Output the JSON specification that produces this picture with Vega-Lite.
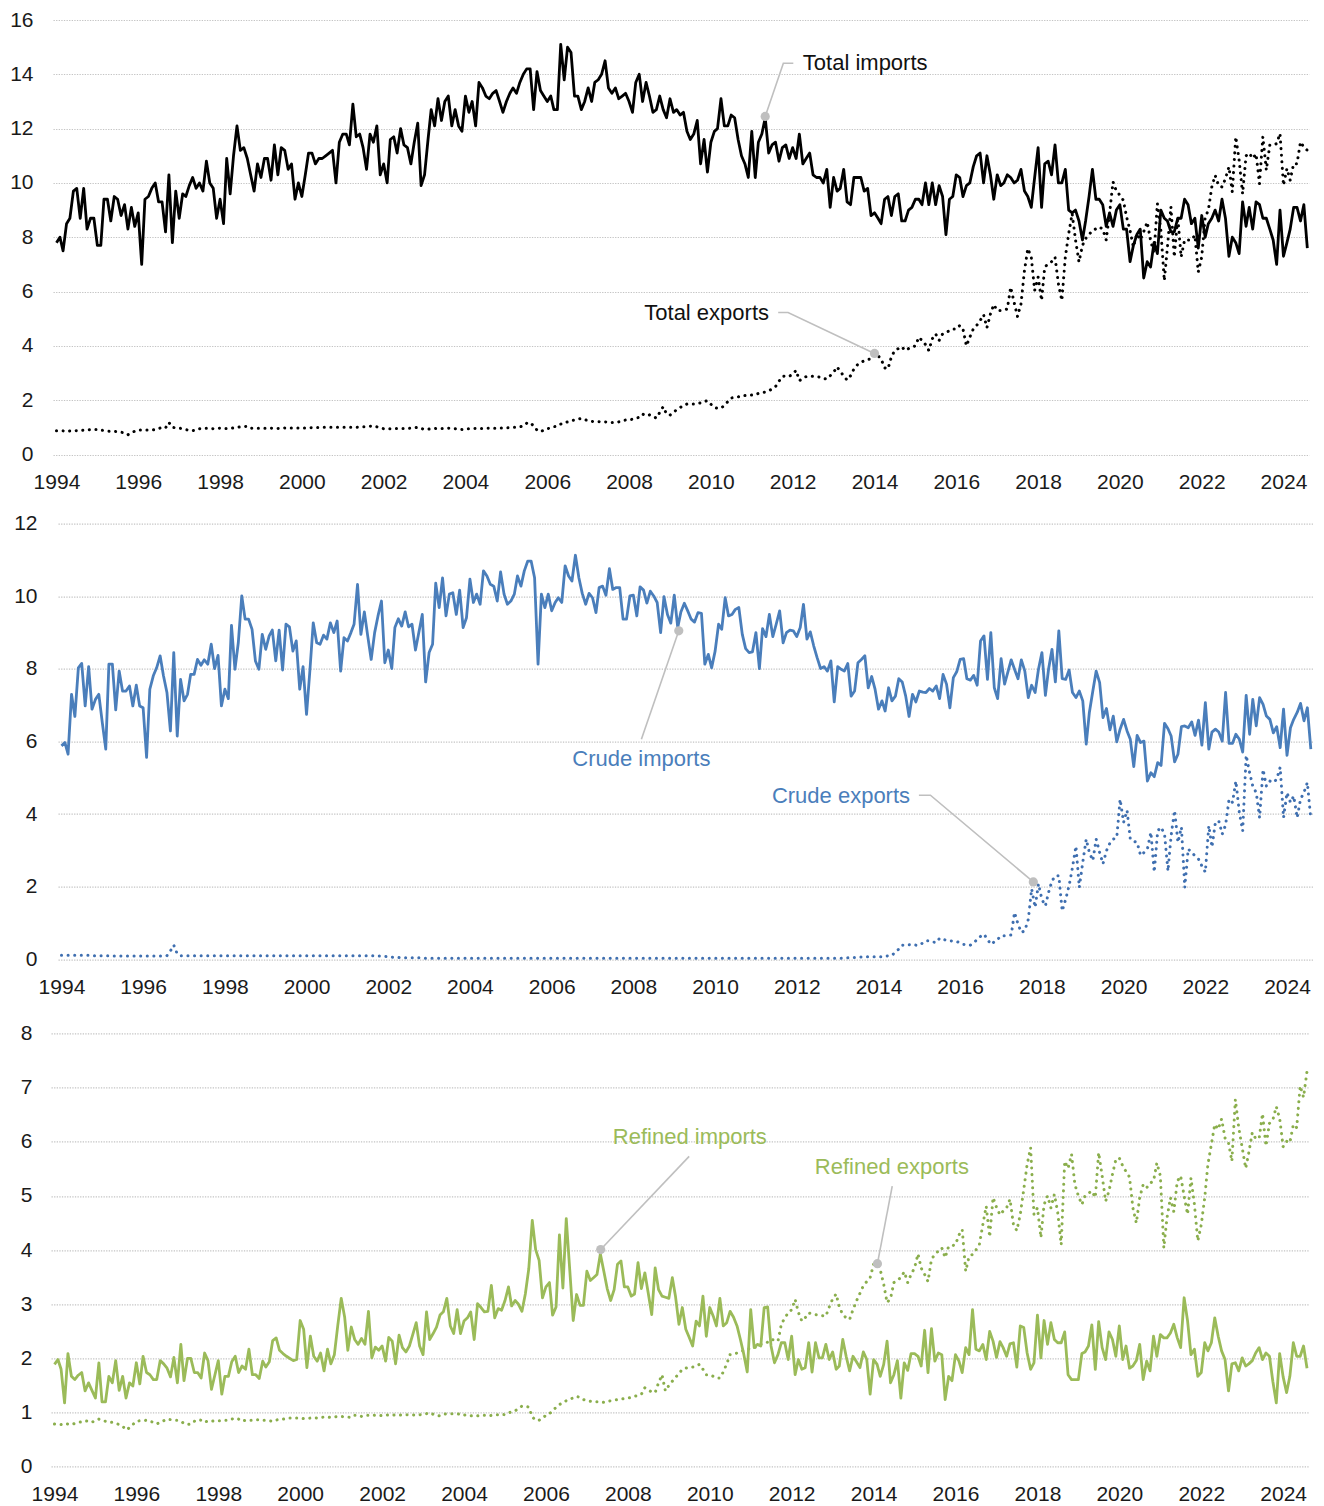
{
"$schema": "https://vega.github.io/schema/vega-lite/v6.json",
"background": "white",
"padding": {"left": 9, "top": 9, "right": 5, "bottom": 5},
"config": {
  "view": {"stroke": null},
  "axis": {"domain": false, "ticks": false, "tickSize": 0, "labelFont": "Liberation Sans", "labelFontSize": 21, "labelColor": "#1a1a1a", "gridColor": "#c4c4c4", "gridDash": [1.3, 1.3], "gridWidth": 1.2},
  "axisX": {"grid": false},
  "axisY": {"grid": true}
},
"data": {
  "values": "d,ti,te,ci,ce,ri,re\n1994-01,7.8,0.87,5.88,0.11,1.89,0.79\n1994-02,8.0,0.87,5.97,0.11,1.98,0.78\n1994-03,7.5,0.87,5.65,0.11,1.80,0.78\n1994-04,8.5,0.85,7.30,0.11,1.18,0.80\n1994-05,8.7,0.87,6.69,0.11,2.09,0.79\n1994-06,9.7,0.87,8.03,0.11,1.67,0.78\n1994-07,9.8,0.88,8.15,0.11,1.61,0.80\n1994-08,8.7,0.88,6.98,0.11,1.69,0.82\n1994-09,9.8,0.90,8.06,0.11,1.74,0.83\n1994-10,8.3,0.90,6.89,0.10,1.40,0.85\n1994-11,8.7,0.92,7.16,0.10,1.55,0.84\n1994-12,8.7,0.92,7.30,0.10,1.41,0.82\n1995-01,7.7,0.92,6.52,0.10,1.27,0.86\n1995-02,7.7,0.90,5.79,0.10,1.92,0.88\n1995-03,9.4,0.88,8.13,0.10,1.20,0.86\n1995-04,9.4,0.86,8.13,0.09,1.20,0.84\n1995-05,8.6,0.85,6.87,0.09,1.67,0.83\n1995-06,9.5,0.85,7.94,0.09,1.55,0.82\n1995-07,9.4,0.84,7.39,0.09,1.96,0.80\n1995-08,8.8,0.82,7.39,0.09,1.41,0.78\n1995-09,9.2,0.80,7.53,0.09,1.67,0.75\n1995-10,8.3,0.73,6.98,0.09,1.27,0.68\n1995-11,9.1,0.80,7.55,0.09,1.55,0.72\n1995-12,8.4,0.86,6.98,0.09,1.49,0.78\n1996-01,8.9,0.90,6.93,0.09,1.92,0.84\n1996-02,7.0,0.90,5.56,0.09,1.53,0.85\n1996-03,9.4,0.90,7.44,0.09,2.04,0.85\n1996-04,9.5,0.90,7.81,0.09,1.74,0.86\n1996-05,9.8,0.90,8.03,0.09,1.70,0.84\n1996-06,10.0,0.92,8.36,0.09,1.61,0.82\n1996-07,9.3,0.95,7.81,0.09,1.61,0.79\n1996-08,9.3,1.00,7.35,0.10,1.96,0.82\n1996-09,8.2,0.98,6.29,0.23,1.90,0.85\n1996-10,10.3,1.18,8.45,0.39,1.82,0.88\n1996-11,7.8,1.00,6.15,0.15,1.66,0.87\n1996-12,9.7,0.98,7.71,0.10,2.02,0.86\n1997-01,8.7,0.97,7.12,0.10,1.55,0.86\n1997-02,9.6,0.95,7.30,0.10,2.26,0.84\n1997-03,9.5,0.92,7.85,0.10,1.59,0.80\n1997-04,9.9,0.88,7.85,0.10,2.00,0.78\n1997-05,10.2,0.88,8.26,0.10,2.00,0.79\n1997-06,9.8,0.90,8.10,0.10,1.74,0.84\n1997-07,10.0,0.95,8.25,0.10,1.74,0.87\n1997-08,9.7,0.97,8.13,0.10,1.64,0.86\n1997-09,10.8,0.97,8.68,0.10,2.10,0.82\n1997-10,10.0,0.96,8.01,0.10,1.96,0.85\n1997-11,9.8,0.95,8.37,0.10,1.43,0.84\n1997-12,8.7,0.96,6.98,0.10,1.69,0.85\n1998-01,9.4,0.97,7.44,0.10,1.96,0.85\n1998-02,8.5,0.96,7.18,0.10,1.34,0.85\n1998-03,10.9,0.96,9.20,0.10,1.67,0.86\n1998-04,9.6,0.96,7.99,0.10,1.67,0.86\n1998-05,11.0,0.98,8.72,0.10,1.94,0.88\n1998-06,12.1,1.00,10.01,0.10,2.04,0.90\n1998-07,11.2,1.02,9.37,0.10,1.74,0.88\n1998-08,11.3,1.03,9.37,0.10,1.86,0.84\n1998-09,10.9,1.04,9.09,0.10,1.80,0.86\n1998-10,10.3,0.97,8.22,0.10,2.17,0.86\n1998-11,9.7,0.96,7.99,0.10,1.70,0.86\n1998-12,10.7,0.97,8.95,0.10,1.70,0.87\n1999-01,10.2,0.97,8.54,0.10,1.63,0.87\n1999-02,10.9,0.97,8.91,0.10,1.95,0.86\n1999-03,10.9,0.97,9.07,0.10,1.84,0.86\n1999-04,10.1,0.97,8.22,0.10,1.94,0.85\n1999-05,11.4,0.96,9.07,0.10,2.33,0.84\n1999-06,10.3,0.96,7.97,0.10,2.38,0.86\n1999-07,11.3,0.97,9.23,0.10,2.15,0.88\n1999-08,11.2,0.98,9.16,0.10,2.09,0.88\n1999-09,10.5,0.98,8.49,0.10,2.04,0.89\n1999-10,10.7,0.98,8.77,0.10,2.00,0.90\n1999-11,9.4,0.98,7.44,0.10,1.96,0.90\n1999-12,10.0,0.98,8.06,0.10,1.98,0.90\n2000-01,9.5,0.98,6.75,0.10,2.70,0.90\n2000-02,10.3,0.98,7.99,0.10,2.54,0.89\n2000-03,11.1,0.98,9.27,0.10,1.83,0.89\n2000-04,11.1,0.99,8.72,0.10,2.41,0.90\n2000-05,10.7,0.99,8.68,0.10,2.04,0.91\n2000-06,10.9,0.99,8.93,0.10,1.95,0.90\n2000-07,10.9,1.00,8.82,0.10,2.10,0.91\n2000-08,11.0,1.00,9.27,0.10,1.77,0.92\n2000-09,11.1,1.00,9.00,0.10,2.17,0.92\n2000-10,11.2,1.00,9.32,0.10,1.90,0.91\n2000-11,10.0,1.00,7.94,0.10,2.07,0.92\n2000-12,11.5,1.00,8.86,0.10,2.60,0.93\n2001-01,11.8,1.00,8.77,0.10,3.11,0.93\n2001-02,11.8,1.00,9.00,0.10,2.76,0.92\n2001-03,11.4,1.00,9.23,0.10,2.15,0.92\n2001-04,12.9,1.00,10.33,0.10,2.58,0.91\n2001-05,11.7,1.00,8.95,0.10,2.35,0.95\n2001-06,11.8,1.01,9.57,0.10,2.26,0.95\n2001-07,11.3,1.02,8.91,0.10,2.37,0.93\n2001-08,10.5,1.02,8.26,0.10,2.26,0.95\n2001-09,11.8,1.04,9.00,0.10,2.87,0.95\n2001-10,11.5,1.05,9.46,0.09,2.01,0.96\n2001-11,12.1,1.02,9.87,0.09,2.21,0.95\n2001-12,10.3,0.98,8.17,0.08,2.15,0.94\n2002-01,10.7,0.95,8.52,0.07,2.23,0.95\n2002-02,10.0,0.95,8.01,0.06,1.95,0.95\n2002-03,11.6,0.95,9.14,0.05,2.39,0.96\n2002-04,11.7,0.96,9.38,0.05,2.32,0.95\n2002-05,11.1,0.96,9.18,0.04,1.90,0.96\n2002-06,12.0,0.96,9.57,0.04,2.43,0.96\n2002-07,11.4,0.96,9.16,0.04,2.20,0.95\n2002-08,11.3,0.96,9.23,0.04,2.12,0.96\n2002-09,10.7,0.97,8.52,0.04,2.23,0.96\n2002-10,11.5,0.98,9.00,0.04,2.44,0.96\n2002-11,12.2,1.00,9.50,0.03,2.66,0.95\n2002-12,9.9,0.96,7.64,0.03,2.23,0.96\n2003-01,10.3,0.92,8.45,0.03,2.07,0.97\n2003-02,11.6,0.93,8.68,0.03,2.86,0.98\n2003-03,12.7,0.95,10.36,0.03,2.35,1.00\n2003-04,12.1,0.96,9.69,0.03,2.46,0.97\n2003-05,13.1,0.95,10.51,0.03,2.58,0.95\n2003-06,12.3,0.96,9.46,0.03,2.80,0.94\n2003-07,13.0,0.96,10.06,0.03,2.86,0.97\n2003-08,13.2,0.97,10.10,0.03,3.11,0.98\n2003-09,12.1,0.96,9.50,0.03,2.60,0.98\n2003-10,12.7,0.95,10.17,0.03,2.46,0.98\n2003-11,12.1,0.93,9.14,0.03,2.90,0.97\n2003-12,11.9,0.92,9.41,0.03,2.46,0.98\n2004-01,13.2,0.95,10.47,0.03,2.69,0.96\n2004-02,12.6,0.95,9.83,0.03,2.75,0.94\n2004-03,13.0,0.95,10.06,0.03,2.86,0.94\n2004-04,12.1,0.96,9.78,0.03,2.35,0.95\n2004-05,13.7,0.96,10.70,0.03,3.01,0.94\n2004-06,13.5,0.96,10.56,0.03,2.94,0.95\n2004-07,13.2,0.96,10.33,0.03,2.86,0.95\n2004-08,13.1,0.97,10.28,0.03,2.87,0.94\n2004-09,13.3,0.97,9.87,0.03,3.35,0.95\n2004-10,13.4,0.97,10.67,0.03,2.75,0.96\n2004-11,13.0,0.98,10.06,0.03,2.92,0.96\n2004-12,12.6,0.98,9.78,0.03,2.89,0.97\n2005-01,13.0,0.98,9.87,0.03,3.07,0.96\n2005-02,13.3,0.99,10.06,0.03,3.32,0.99\n2005-03,13.5,1.00,10.56,0.03,2.97,1.02\n2005-04,13.3,1.00,10.28,0.03,3.07,1.03\n2005-05,13.7,1.02,10.70,0.03,3.00,1.08\n2005-06,14.0,1.05,10.97,0.03,2.87,1.12\n2005-07,14.2,1.15,10.97,0.03,3.19,1.12\n2005-08,14.2,1.18,10.51,0.03,3.66,1.10\n2005-09,12.7,1.05,8.13,0.03,4.55,0.92\n2005-10,14.1,0.90,10.06,0.03,4.01,0.86\n2005-11,13.4,0.84,9.69,0.03,3.81,0.86\n2005-12,13.2,0.90,10.06,0.03,3.12,0.90\n2006-01,13.0,0.95,9.60,0.03,3.32,0.95\n2006-02,13.2,0.98,9.83,0.03,3.40,0.98\n2006-03,12.7,1.02,9.96,0.03,2.80,1.03\n2006-04,12.7,1.05,9.83,0.03,2.95,1.10\n2006-05,15.1,1.12,10.84,0.03,4.28,1.15\n2006-06,13.8,1.18,10.56,0.03,3.30,1.18\n2006-07,15.0,1.20,10.42,0.03,4.58,1.22\n2006-08,14.8,1.25,11.13,0.03,3.64,1.25\n2006-09,13.2,1.27,10.51,0.03,2.70,1.27\n2006-10,13.2,1.30,10.08,0.03,3.18,1.30\n2006-11,12.7,1.33,9.78,0.03,2.98,1.28\n2006-12,13.0,1.28,10.08,0.03,2.98,1.24\n2007-01,13.5,1.25,9.96,0.03,3.61,1.22\n2007-02,13.0,1.22,9.55,0.03,3.44,1.21\n2007-03,13.7,1.21,10.24,0.03,3.49,1.20\n2007-04,13.8,1.21,10.28,0.03,3.55,1.20\n2007-05,14.0,1.20,10.03,0.03,3.93,1.20\n2007-06,14.5,1.20,10.76,0.03,3.61,1.19\n2007-07,13.5,1.19,10.19,0.03,3.29,1.20\n2007-08,13.3,1.18,10.24,0.03,3.07,1.22\n2007-09,13.5,1.18,10.24,0.03,3.27,1.23\n2007-10,13.1,1.20,9.37,0.03,3.74,1.24\n2007-11,13.2,1.24,9.37,0.03,3.80,1.25\n2007-12,13.3,1.27,10.01,0.03,3.32,1.26\n2008-01,13.0,1.27,10.03,0.03,3.32,1.27\n2008-02,12.6,1.30,9.46,0.03,3.15,1.28\n2008-03,13.7,1.33,10.26,0.03,3.19,1.30\n2008-04,14.0,1.37,10.17,0.03,3.77,1.32\n2008-05,13.0,1.49,9.81,0.03,3.29,1.34\n2008-06,13.7,1.43,10.14,0.03,3.58,1.46\n2008-07,13.2,1.46,10.01,0.03,3.21,1.42\n2008-08,12.6,1.40,9.83,0.03,2.81,1.38\n2008-09,12.7,1.34,9.00,0.03,3.67,1.37\n2008-10,13.2,1.55,9.99,0.03,3.27,1.55\n2008-11,12.7,1.76,9.50,0.03,3.15,1.70\n2008-12,12.4,1.49,9.26,0.03,3.13,1.40\n2009-01,13.1,1.45,10.03,0.03,3.11,1.50\n2009-02,12.6,1.55,9.14,0.03,3.49,1.58\n2009-03,12.7,1.65,9.57,0.03,3.15,1.65\n2009-04,12.5,1.73,9.81,0.03,2.63,1.72\n2009-05,12.6,1.80,9.60,0.03,2.94,1.80\n2009-06,11.9,1.86,9.37,0.03,2.54,1.82\n2009-07,11.6,1.86,9.29,0.03,2.39,1.84\n2009-08,11.8,1.86,9.55,0.03,2.23,1.84\n2009-09,12.3,1.88,9.53,0.03,2.69,1.86\n2009-10,10.7,1.90,8.13,0.03,2.60,1.89\n2009-11,11.6,1.95,8.40,0.03,3.15,1.80\n2009-12,10.4,1.98,8.03,0.03,2.41,1.70\n2010-01,11.5,1.85,8.49,0.03,2.94,1.70\n2010-02,11.9,1.73,9.23,0.03,2.78,1.67\n2010-03,12.0,1.70,9.09,0.03,2.60,1.64\n2010-04,13.1,1.71,9.96,0.03,3.11,1.64\n2010-05,12.1,1.80,9.46,0.03,2.60,1.75\n2010-06,12.1,1.95,9.50,0.03,2.66,1.90\n2010-07,12.5,2.08,9.64,0.03,2.87,2.07\n2010-08,12.4,2.10,9.69,0.03,2.76,2.08\n2010-09,11.6,2.12,8.95,0.03,2.60,2.10\n2010-10,11.0,2.16,8.56,0.03,2.35,2.12\n2010-11,10.7,2.17,8.45,0.03,2.07,2.15\n2010-12,10.2,2.18,8.47,0.03,1.75,2.18\n2011-01,11.9,2.19,9.00,0.03,2.90,2.18\n2011-02,10.2,2.20,8.01,0.03,2.20,2.20\n2011-03,11.5,2.25,9.11,0.03,2.26,2.22\n2011-04,11.8,2.28,8.89,0.03,2.23,2.26\n2011-05,12.4,2.30,9.50,0.03,2.94,2.28\n2011-06,11.1,2.35,8.89,0.03,2.95,2.30\n2011-07,11.4,2.41,9.23,0.03,2.23,2.35\n2011-08,11.5,2.50,9.60,0.03,1.92,2.34\n2011-09,10.8,2.70,8.72,0.03,2.07,2.32\n2011-10,11.3,2.87,9.00,0.03,2.29,2.63\n2011-11,11.4,2.90,9.07,0.03,2.29,2.75\n2011-12,10.9,2.88,9.05,0.03,1.98,2.84\n2012-01,11.3,2.95,8.89,0.03,2.41,2.90\n2012-02,10.9,3.10,9.14,0.03,1.70,3.09\n2012-03,11.8,2.72,9.78,0.03,1.98,2.85\n2012-04,10.7,2.80,8.82,0.03,1.80,2.69\n2012-05,10.9,2.87,9.02,0.03,1.83,2.75\n2012-06,11.1,2.87,8.63,0.03,2.29,2.84\n2012-07,10.3,2.88,8.31,0.03,1.75,2.82\n2012-08,10.2,2.87,8.01,0.03,2.29,2.81\n2012-09,10.2,2.85,8.06,0.03,2.01,2.80\n2012-10,10.0,2.80,7.94,0.03,2.01,2.79\n2012-11,10.5,2.78,8.22,0.03,2.26,2.78\n2012-12,9.1,2.90,7.09,0.03,1.98,2.95\n2013-01,10.2,3.03,8.06,0.03,2.12,3.10\n2013-02,9.7,3.23,7.99,0.03,1.80,3.19\n2013-03,9.8,3.05,7.94,0.04,1.86,2.95\n2013-04,10.5,2.90,8.15,0.04,2.35,2.81\n2013-05,9.3,2.74,7.25,0.05,2.04,2.75\n2013-06,9.2,2.90,7.39,0.05,1.77,2.72\n2013-07,10.2,3.15,8.17,0.06,2.04,2.90\n2013-08,10.2,3.30,8.26,0.06,1.94,3.06\n2013-09,10.2,3.39,8.36,0.07,1.83,3.20\n2013-10,9.7,3.45,7.48,0.07,2.12,3.34\n2013-11,9.8,3.50,7.79,0.07,1.98,3.42\n2013-12,8.8,3.52,7.44,0.07,1.34,3.49\n2014-01,8.9,3.70,6.89,0.07,1.98,3.74\n2014-02,8.7,3.64,7.12,0.07,1.89,3.75\n2014-03,8.5,3.52,6.84,0.08,1.67,3.64\n2014-04,9.4,3.19,7.48,0.10,1.89,3.37\n2014-05,9.5,3.15,7.12,0.11,2.32,3.03\n2014-06,8.8,3.60,7.25,0.20,1.55,3.11\n2014-07,9.5,3.83,7.73,0.28,1.70,3.40\n2014-08,9.6,3.90,7.64,0.39,1.96,3.45\n2014-09,8.6,3.97,7.25,0.38,1.27,3.49\n2014-10,8.6,3.83,6.69,0.40,1.92,3.60\n2014-11,9.0,3.90,7.30,0.41,1.78,3.40\n2014-12,9.1,3.95,7.09,0.39,2.09,3.55\n2015-01,9.4,4.00,7.39,0.39,2.09,3.67\n2015-02,9.4,4.32,7.36,0.45,2.04,3.93\n2015-03,9.2,4.20,7.35,0.51,1.86,3.67\n2015-04,10.0,4.05,7.46,0.51,2.52,3.55\n2015-05,9.2,3.83,7.39,0.48,1.74,3.42\n2015-06,10.0,4.26,7.53,0.46,2.55,3.83\n2015-07,9.2,4.44,7.18,0.58,1.95,3.92\n2015-08,9.9,4.20,7.85,0.55,2.10,3.98\n2015-09,9.5,4.44,7.58,0.52,2.07,4.04\n2015-10,8.1,4.50,6.93,0.51,1.24,3.86\n2015-11,9.4,4.55,7.76,0.50,1.67,4.07\n2015-12,9.5,4.62,7.92,0.49,1.59,4.08\n2016-01,10.3,4.62,8.26,0.45,2.07,4.10\n2016-02,10.2,4.75,8.28,0.41,1.95,4.28\n2016-03,9.5,4.62,7.73,0.40,1.74,4.38\n2016-04,9.9,4.00,7.69,0.39,2.20,3.61\n2016-05,10.0,4.32,7.82,0.45,2.07,3.88\n2016-06,10.6,4.62,7.55,0.55,2.90,3.92\n2016-07,11.0,4.75,8.77,0.63,2.17,4.00\n2016-08,11.1,4.93,8.91,0.69,2.14,4.10\n2016-09,10.0,5.15,7.71,0.55,2.26,4.47\n2016-10,11.0,4.67,9.00,0.41,1.98,4.81\n2016-11,10.3,5.17,7.48,0.48,2.50,4.24\n2016-12,9.4,5.52,7.18,0.55,2.32,4.97\n2017-01,10.3,5.30,8.28,0.65,2.02,4.79\n2017-02,9.9,5.30,7.58,0.65,2.31,4.65\n2017-03,10.0,5.32,7.90,0.66,2.20,4.72\n2017-04,10.3,5.36,8.25,0.67,2.04,4.78\n2017-05,10.2,6.16,7.99,1.29,2.27,4.94\n2017-06,10.0,5.60,7.73,0.97,2.29,4.47\n2017-07,10.1,5.08,8.25,0.74,1.84,4.36\n2017-08,10.5,5.54,7.94,0.79,2.60,4.66\n2017-09,9.7,6.77,7.21,1.10,2.57,5.12\n2017-10,9.5,7.58,7.55,1.94,2.10,5.58\n2017-11,9.1,7.27,7.35,1.43,1.80,5.89\n2017-12,10.2,6.04,7.99,2.08,1.92,4.66\n2018-01,11.3,6.53,8.45,1.65,2.80,4.78\n2018-02,9.1,5.67,7.27,1.47,2.01,4.23\n2018-03,10.7,6.90,7.99,1.84,2.70,4.84\n2018-04,10.8,7.02,8.54,2.16,2.26,5.00\n2018-05,10.3,7.10,7.64,2.30,2.66,4.78\n2018-06,11.4,7.27,9.05,2.30,2.35,5.03\n2018-07,10.0,6.29,7.73,1.33,2.29,4.69\n2018-08,10.0,5.67,7.71,1.65,2.29,4.10\n2018-09,10.5,7.27,7.97,2.03,2.49,5.64\n2018-10,9.0,8.13,7.35,2.53,1.70,5.51\n2018-11,8.9,8.87,7.21,3.12,1.61,5.77\n2018-12,9.0,7.90,7.39,1.98,1.61,5.21\n2019-01,8.6,7.09,7.12,2.67,1.61,5.00\n2019-02,7.9,7.70,5.93,3.31,2.09,4.84\n2019-03,8.6,7.95,6.80,2.94,2.12,5.00\n2019-04,9.5,8.10,7.39,2.72,2.23,5.05\n2019-05,10.5,8.25,7.94,3.31,2.62,5.09\n2019-06,9.4,8.31,7.62,2.94,1.80,4.97\n2019-07,9.4,8.38,6.66,2.63,2.68,5.80\n2019-08,9.2,8.30,6.91,2.99,2.20,5.37\n2019-09,8.4,7.90,6.32,3.20,1.98,4.90\n2019-10,8.9,8.87,6.70,3.31,2.49,5.09\n2019-11,8.4,10.04,5.99,3.35,2.35,5.40\n2019-12,9.0,9.70,6.34,4.41,2.04,5.67\n2020-01,9.2,9.55,6.61,3.77,2.60,5.70\n2020-02,8.3,9.36,6.29,4.10,1.98,5.55\n2020-03,8.3,8.75,6.06,3.31,2.23,5.45\n2020-04,7.1,8.25,5.31,3.25,1.82,5.35\n2020-05,7.7,7.64,6.17,3.22,1.86,4.78\n2020-06,8.1,8.13,5.97,2.86,1.96,4.50\n2020-07,8.3,7.90,6.01,2.94,2.26,4.97\n2020-08,6.5,8.20,4.91,3.04,1.61,5.21\n2020-09,7.1,8.56,5.14,3.50,1.95,5.15\n2020-10,6.9,7.90,5.03,2.40,1.77,5.24\n2020-11,7.8,7.40,5.42,3.54,2.41,5.27\n2020-12,7.4,9.24,5.34,3.64,2.04,5.61\n2021-01,9.0,8.25,6.50,3.45,2.44,5.37\n2021-02,8.7,6.40,6.35,2.43,2.38,4.04\n2021-03,8.6,7.64,6.15,3.41,2.38,4.59\n2021-04,8.2,9.12,5.44,4.10,2.47,4.97\n2021-05,8.2,7.27,5.65,3.22,2.63,4.71\n2021-06,8.7,8.75,6.41,3.64,2.38,5.27\n2021-07,8.7,7.27,6.43,1.98,2.20,5.37\n2021-08,9.4,7.90,6.38,3.04,3.12,5.00\n2021-09,9.2,7.90,6.54,2.94,2.69,4.66\n2021-10,8.5,7.90,6.17,2.85,2.07,5.33\n2021-11,8.7,8.07,6.59,2.76,2.17,4.84\n2021-12,7.6,6.72,5.90,2.57,1.67,4.17\n2022-01,8.8,7.27,7.07,2.40,1.74,4.47\n2022-02,8.0,8.75,5.79,3.68,2.29,4.97\n2022-03,8.5,8.99,6.26,3.09,2.14,5.58\n2022-04,8.7,9.85,6.34,3.77,2.29,5.95\n2022-05,9.0,10.28,6.26,3.81,2.75,6.32\n2022-06,8.6,9.90,6.01,3.45,2.41,6.23\n2022-07,9.4,9.85,7.35,3.70,2.14,6.42\n2022-08,8.7,10.16,5.95,4.41,1.98,6.07\n2022-09,7.3,10.59,5.95,4.32,1.40,5.98\n2022-10,8.0,9.67,6.20,4.91,1.90,5.64\n2022-11,7.8,11.70,6.06,4.04,1.92,6.78\n2022-12,7.4,10.84,5.71,3.54,1.77,6.26\n2023-01,9.3,9.60,7.27,5.62,2.01,5.89\n2023-02,8.4,11.00,6.20,5.14,1.86,5.51\n2023-03,9.1,11.10,7.16,4.77,1.90,5.80\n2023-04,8.3,10.90,6.43,4.59,1.96,6.17\n2023-05,9.3,11.07,7.21,3.90,2.10,6.06\n2023-06,9.2,9.97,7.02,5.23,2.20,6.06\n2023-07,8.7,11.70,6.70,4.77,1.98,6.52\n2023-08,8.7,10.47,6.61,4.91,2.10,5.92\n2023-09,8.3,11.39,6.24,4.87,2.04,6.34\n2023-10,7.9,11.39,6.41,4.96,1.58,6.40\n2023-11,7.0,11.45,5.83,5.29,1.18,6.65\n2023-12,9.0,11.82,6.89,3.90,2.09,6.43\n2024-01,7.3,9.91,5.62,4.59,1.66,5.91\n2024-02,7.8,10.53,6.38,4.32,1.37,6.01\n2024-03,8.3,10.10,6.61,4.50,1.67,5.98\n2024-04,9.1,10.71,6.80,3.90,2.29,6.32\n2024-05,9.1,10.71,7.05,4.41,2.04,6.26\n2024-06,8.6,11.51,6.57,4.60,2.04,7.03\n2024-07,9.2,11.32,6.93,4.87,2.23,6.82\n2024-08,7.6,11.20,5.79,3.86,1.82,7.30",
  "format": {"type": "csv", "parse": {"d": "utc:'%Y-%m'", "ti": "number", "te": "number", "ci": "number", "ce": "number", "ri": "number", "re": "number"}}
},
"bounds": "flush",
"spacing": 68.7,
"vconcat": [
  {
    "width": 1256,
    "height": 434.5,
    "layer": [
      {
        "mark": {"type": "line", "color": "#000000", "strokeWidth": 3, "strokeDash": [0.1, 6.5], "strokeCap": "round"},
        "encoding": {
          "x": {"field": "d", "type": "temporal",
                "scale": {"type": "utc", "domain": [{"year": 1993, "month": 12, "date": 1, "utc": true}, {"year": 2024, "month": 8, "date": 16, "utc": true}], "range": [0, 1256]},
                "axis": {"title": null, "format": "%Y", "labelFlush": false, "labelOverlap": false, "labelBaseline": "middle", "labelPadding": 28,
                         "values": [{"year": 1994, "utc": true}, {"year": 1996, "utc": true}, {"year": 1998, "utc": true}, {"year": 2000, "utc": true}, {"year": 2002, "utc": true}, {"year": 2004, "utc": true}, {"year": 2006, "utc": true}, {"year": 2008, "utc": true}, {"year": 2010, "utc": true}, {"year": 2012, "utc": true}, {"year": 2014, "utc": true}, {"year": 2016, "utc": true}, {"year": 2018, "utc": true}, {"year": 2020, "utc": true}, {"year": 2022, "utc": true}, {"year": 2024, "utc": true}]}},
          "y": {"field": "te", "type": "quantitative", "scale": {"domain": [0, 16], "nice": false},
                "axis": {"title": null, "values": [0, 2, 4, 6, 8, 10, 12, 14, 16], "labelPadding": 20}}
        }
      },
      {
        "mark": {"type": "line", "color": "#000000", "strokeWidth": 2.8, "strokeJoin": "round"},
        "encoding": {"x": {"field": "d", "type": "temporal"}, "y": {"field": "ti", "type": "quantitative"}}
      },
      {
        "data": {"values": [
          {"d": "2011-05-01", "v": 12.45, "g": "a"}, {"d": "2011-10-10", "v": 14.41, "g": "a"}, {"d": "2012-01-07", "v": 14.41, "g": "a"},
          {"d": "2011-08-25", "v": 5.23, "g": "b"}, {"d": "2011-11-21", "v": 5.23, "g": "b"}, {"d": "2014-01-01", "v": 3.72, "g": "b"}]},
        "mark": {"type": "line", "color": "#bfbfbf", "strokeWidth": 1.6},
        "encoding": {"x": {"field": "d", "type": "temporal"}, "y": {"field": "v", "type": "quantitative"}, "detail": {"field": "g"}}
      },
      {
        "data": {"values": [{"d": "2011-05-01", "v": 12.45}, {"d": "2014-01-01", "v": 3.72}]},
        "mark": {"type": "point", "filled": true, "color": "#bfbfbf", "opacity": 1, "size": 85},
        "encoding": {"x": {"field": "d", "type": "temporal"}, "y": {"field": "v", "type": "quantitative"}}
      },
      {
        "data": {"values": [{"d": "2012-04-01", "v": 14.41, "t": "Total imports"}]},
        "mark": {"type": "text", "align": "left", "baseline": "middle", "font": "Liberation Sans", "fontSize": 22, "color": "#111111"},
        "encoding": {"x": {"field": "d", "type": "temporal"}, "y": {"field": "v", "type": "quantitative"}, "text": {"field": "t"}}
      },
      {
        "data": {"values": [{"d": "2011-06-04", "v": 5.2, "t": "Total exports"}]},
        "mark": {"type": "text", "align": "right", "baseline": "middle", "font": "Liberation Sans", "fontSize": 22, "color": "#111111"},
        "encoding": {"x": {"field": "d", "type": "temporal"}, "y": {"field": "v", "type": "quantitative"}, "text": {"field": "t"}}
      }
    ]
  },
  {
    "width": 1256,
    "height": 440.9,
    "layer": [
      {
        "mark": {"type": "line", "color": "#3f6fb0", "strokeWidth": 3, "strokeDash": [0.1, 6.5], "strokeCap": "round"},
        "encoding": {
          "x": {"field": "d", "type": "temporal",
                "scale": {"type": "utc", "domain": [{"year": 1993, "month": 12, "date": 1, "utc": true}, {"year": 2024, "month": 8, "date": 16, "utc": true}], "range": [5, 1259.5]},
                "axis": {"title": null, "format": "%Y", "labelFlush": false, "labelOverlap": false, "labelBaseline": "middle", "labelPadding": 28, "offset": -5.3,
                         "values": [{"year": 1994, "utc": true}, {"year": 1996, "utc": true}, {"year": 1998, "utc": true}, {"year": 2000, "utc": true}, {"year": 2002, "utc": true}, {"year": 2004, "utc": true}, {"year": 2006, "utc": true}, {"year": 2008, "utc": true}, {"year": 2010, "utc": true}, {"year": 2012, "utc": true}, {"year": 2014, "utc": true}, {"year": 2016, "utc": true}, {"year": 2018, "utc": true}, {"year": 2020, "utc": true}, {"year": 2022, "utc": true}, {"year": 2024, "utc": true}]}},
          "y": {"field": "ce", "type": "quantitative", "scale": {"domain": [0, 12], "nice": false, "range": [435.6, 0]},
                "axis": {"title": null, "values": [0, 2, 4, 6, 8, 10, 12], "labelPadding": 16}}
        }
      },
      {
        "mark": {"type": "line", "color": "#4a7ebb", "strokeWidth": 2.8, "strokeJoin": "round"},
        "encoding": {"x": {"field": "d", "type": "temporal"}, "y": {"field": "ci", "type": "quantitative"}}
      },
      {
        "data": {"values": [
          {"d": "2008-03-13", "v": 6.06, "g": "a"}, {"d": "2009-02-10", "v": 9.05, "g": "a"},
          {"d": "2014-12-28", "v": 4.52, "g": "b"}, {"d": "2015-04-10", "v": 4.52, "g": "b"}, {"d": "2017-10-16", "v": 2.13, "g": "b"}]},
        "mark": {"type": "line", "color": "#bfbfbf", "strokeWidth": 1.6},
        "encoding": {"x": {"field": "d", "type": "temporal"}, "y": {"field": "v", "type": "quantitative"}, "detail": {"field": "g"}}
      },
      {
        "data": {"values": [{"d": "2009-02-10", "v": 9.05}, {"d": "2017-10-16", "v": 2.13}]},
        "mark": {"type": "point", "filled": true, "color": "#bfbfbf", "opacity": 1, "size": 85},
        "encoding": {"x": {"field": "d", "type": "temporal"}, "y": {"field": "v", "type": "quantitative"}}
      },
      {
        "data": {"values": [{"d": "2008-03-13", "v": 5.52, "t": "Crude imports"}]},
        "mark": {"type": "text", "align": "center", "baseline": "middle", "font": "Liberation Sans", "fontSize": 22, "color": "#4a7ebb"},
        "encoding": {"x": {"field": "d", "type": "temporal"}, "y": {"field": "v", "type": "quantitative"}, "text": {"field": "t"}}
      },
      {
        "data": {"values": [{"d": "2014-10-10", "v": 4.51, "t": "Crude exports"}]},
        "mark": {"type": "text", "align": "right", "baseline": "middle", "font": "Liberation Sans", "fontSize": 22, "color": "#4a7ebb"},
        "encoding": {"x": {"field": "d", "type": "temporal"}, "y": {"field": "v", "type": "quantitative"}, "text": {"field": "t"}}
      }
    ]
  },
  {
    "width": 1256,
    "height": 433.4,
    "layer": [
      {
        "mark": {"type": "line", "color": "#8aae4c", "strokeWidth": 3, "strokeDash": [0.1, 6.5], "strokeCap": "round"},
        "encoding": {
          "x": {"field": "d", "type": "temporal",
                "scale": {"type": "utc", "domain": [{"year": 1993, "month": 12, "date": 1, "utc": true}, {"year": 2024, "month": 8, "date": 16, "utc": true}], "range": [-2, 1255.7]},
                "axis": {"title": null, "format": "%Y", "labelFlush": false, "labelOverlap": false, "labelBaseline": "middle", "labelPadding": 28,
                         "values": [{"year": 1994, "utc": true}, {"year": 1996, "utc": true}, {"year": 1998, "utc": true}, {"year": 2000, "utc": true}, {"year": 2002, "utc": true}, {"year": 2004, "utc": true}, {"year": 2006, "utc": true}, {"year": 2008, "utc": true}, {"year": 2010, "utc": true}, {"year": 2012, "utc": true}, {"year": 2014, "utc": true}, {"year": 2016, "utc": true}, {"year": 2018, "utc": true}, {"year": 2020, "utc": true}, {"year": 2022, "utc": true}, {"year": 2024, "utc": true}]}},
          "y": {"field": "re", "type": "quantitative", "scale": {"domain": [0, 8], "nice": false},
                "axis": {"title": null, "values": [0, 1, 2, 3, 4, 5, 6, 7, 8], "labelPadding": 21}}
        }
      },
      {
        "mark": {"type": "line", "color": "#9bbb59", "strokeWidth": 2.8, "strokeJoin": "round"},
        "encoding": {"x": {"field": "d", "type": "temporal"}, "y": {"field": "ri", "type": "quantitative"}}
      },
      {
        "data": {"values": [
          {"d": "2007-05-04", "v": 4.01, "g": "a"}, {"d": "2009-07-01", "v": 5.73, "g": "a"},
          {"d": "2014-02-04", "v": 3.75, "g": "b"}, {"d": "2014-06-16", "v": 5.18, "g": "b"}]},
        "mark": {"type": "line", "color": "#bfbfbf", "strokeWidth": 1.6},
        "encoding": {"x": {"field": "d", "type": "temporal"}, "y": {"field": "v", "type": "quantitative"}, "detail": {"field": "g"}}
      },
      {
        "data": {"values": [{"d": "2007-05-04", "v": 4.01}, {"d": "2014-02-04", "v": 3.75}]},
        "mark": {"type": "point", "filled": true, "color": "#bfbfbf", "opacity": 1, "size": 85},
        "encoding": {"x": {"field": "d", "type": "temporal"}, "y": {"field": "v", "type": "quantitative"}}
      },
      {
        "data": {"values": [{"d": "2009-07-07", "v": 6.09, "t": "Refined imports"}, {"d": "2014-06-13", "v": 5.53, "t": "Refined exports"}]},
        "mark": {"type": "text", "align": "center", "baseline": "middle", "font": "Liberation Sans", "fontSize": 22, "color": "#9bbb59"},
        "encoding": {"x": {"field": "d", "type": "temporal"}, "y": {"field": "v", "type": "quantitative"}, "text": {"field": "t"}}
      }
    ]
  }
]
}
